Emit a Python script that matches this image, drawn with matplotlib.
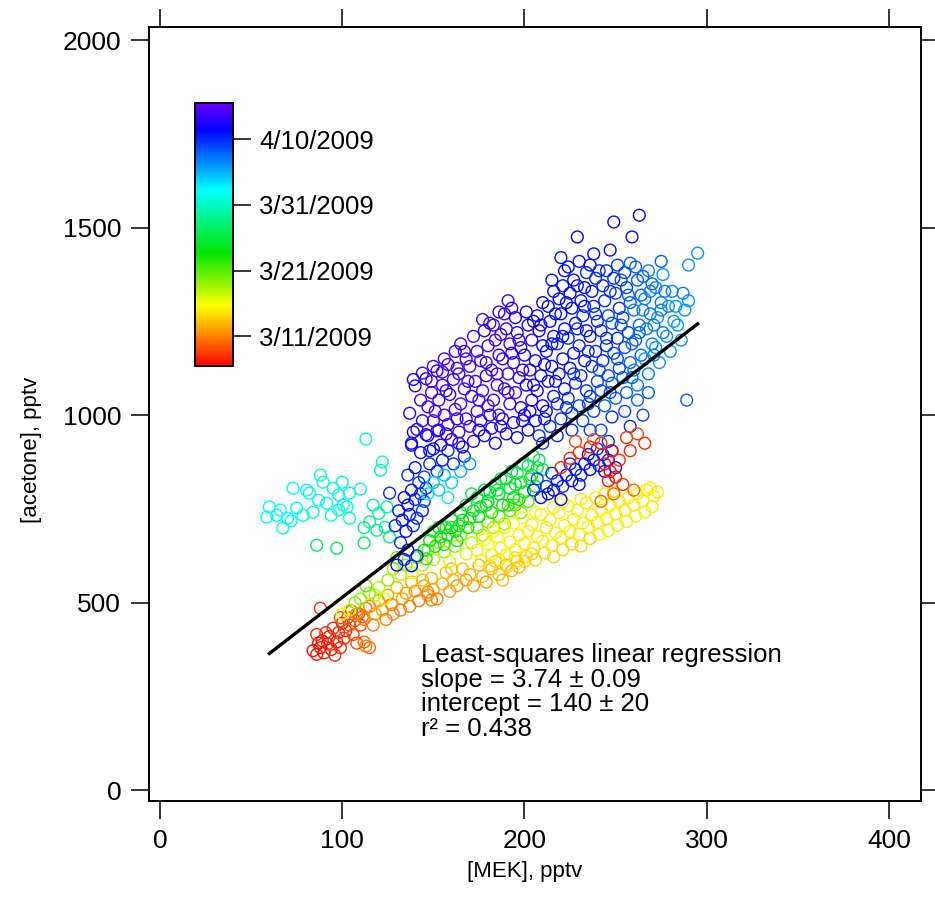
import numpy as np
import matplotlib
matplotlib.use("Agg")
import matplotlib.pyplot as plt
from matplotlib.colors import LinearSegmentedColormap, Normalize
from matplotlib.cm import ScalarMappable

plt.rcParams['font.family'] = ['Liberation Sans', 'DejaVu Sans']

# (MEK pptv, acetone pptv, day of March 2009)
red_early = [
    (84, 372, 6), (86, 362, 6), (88, 380, 6), (90, 366, 6), (92, 390, 7), (89, 398, 6),
    (94, 375, 6), (96, 360, 7), (93, 410, 7), (97, 395, 6), (99, 380, 7), (101, 405, 7),
    (98, 420, 7), (95, 432, 7), (102, 425, 7), (104, 440, 8), (100, 445, 7), (106, 415, 8),
    (103, 460, 8), (107, 452, 8), (109, 470, 8), (105, 478, 8), (110, 440, 8), (91, 420, 7),
    (87, 392, 6), (112, 395, 9), (108, 392, 8), (115, 380, 9), (88, 485, 7), (86, 415, 7),
    (99, 460, 8), (111, 462, 9), (113, 485, 9),
]
orange = [
    (108, 470, 10), (112, 455, 10), (115, 490, 10), (118, 470, 11), (120, 505, 11), (117, 440, 10),
    (122, 480, 11), (125, 520, 11), (127, 495, 10), (130, 540, 12), (128, 470, 10), (133, 510, 11),
    (135, 525, 11), (138, 555, 12), (137, 490, 10), (140, 530, 11), (142, 505, 10), (145, 545, 11),
    (147, 520, 11), (149, 565, 12), (150, 535, 11), (152, 510, 10), (155, 550, 12), (157, 580, 12),
    (159, 530, 11), (161, 560, 12), (163, 545, 11), (166, 590, 12), (168, 560, 11), (170, 575, 12),
    (172, 545, 11), (175, 600, 12), (177, 570, 12), (179, 555, 11), (182, 590, 12), (184, 610, 13),
    (186, 575, 12), (188, 560, 12), (190, 600, 12), (193, 585, 12), (195, 620, 13), (197, 595, 12),
    (113, 384, 10), (149, 507, 10), (147, 528, 10), (124, 455, 10), (132, 480, 10), (144, 560, 12),
    (160, 590, 12), (200, 610, 13), (204, 630, 13),
]
yellow_green = [
    (120, 540, 17), (125, 560, 18), (128, 590, 18), (132, 575, 17), (135, 600, 18), (138, 580, 16),
    (141, 620, 19), (144, 600, 17), (147, 640, 19), (150, 615, 17), (153, 660, 19), (156, 635, 18),
    (159, 610, 16), (162, 650, 18), (165, 680, 19), (168, 630, 16), (171, 660, 17), (174, 700, 19),
    (177, 680, 18), (180, 715, 19), (183, 700, 18), (186, 730, 19), (189, 710, 18), (192, 745, 20),
    (195, 760, 20), (198, 740, 19), (202, 770, 20), (118, 520, 17), (123, 510, 16), (130, 620, 19),
    (110, 510, 18), (115, 525, 18), (104, 480, 16), (107, 500, 19), (100, 470, 15), (113, 545, 20),
]
yellow = [
    (176, 612, 14), (174, 640, 14), (178, 668, 15),
    (181, 598, 13), (182, 628, 14), (180, 655, 15), (183, 690, 15),
    (186, 615, 14), (187, 645, 14), (185, 676, 15),
    (191, 596, 13), (190, 627, 14), (192, 662, 14), (189, 700, 15),
    (196, 610, 13), (195, 641, 14), (197, 680, 14), (194, 712, 15),
    (201, 623, 13), (200, 657, 14), (202, 690, 14), (199, 726, 15),
    (206, 614, 13), (205, 646, 14), (207, 676, 14), (204, 708, 14), (206, 742, 15),
    (211, 632, 13), (210, 664, 14), (212, 700, 14), (209, 735, 14),
    (216, 622, 13), (215, 652, 14), (217, 686, 14), (214, 720, 14), (216, 754, 14),
    (221, 641, 13), (220, 674, 14), (222, 706, 14), (219, 740, 14), (221, 770, 14),
    (226, 656, 13), (225, 690, 14), (227, 722, 14), (224, 758, 14),
    (231, 651, 13), (230, 682, 14), (232, 712, 14), (229, 746, 14), (231, 776, 14),
    (236, 671, 13), (235, 702, 14), (237, 734, 14), (234, 766, 14),
    (241, 682, 14), (240, 714, 14), (242, 746, 14), (239, 780, 14),
    (246, 692, 14), (245, 724, 14), (247, 759, 14), (244, 790, 14),
    (251, 706, 14), (250, 737, 14), (252, 770, 14), (249, 796, 14),
    (256, 716, 14), (255, 746, 14), (257, 780, 14),
    (261, 731, 14), (260, 760, 14), (262, 790, 14),
    (266, 742, 14), (265, 771, 14), (267, 800, 14),
    (270, 756, 14), (271, 784, 14), (269, 806, 14), (273, 795, 14),
]
green = [
    (145, 640, 23), (148, 665, 23), (151, 650, 22), (150, 690, 24), (154, 675, 23), (157, 700, 24),
    (156, 655, 22), (160, 720, 24), (162, 690, 23), (165, 740, 24), (164, 705, 23), (168, 760, 25),
    (170, 725, 23), (172, 745, 24), (174, 780, 25), (176, 755, 24), (178, 800, 25), (180, 770, 24),
    (182, 740, 22), (184, 815, 25), (186, 790, 24), (188, 760, 23), (190, 830, 25), (192, 805, 24),
    (194, 780, 23), (196, 845, 25), (198, 820, 24), (200, 795, 23), (202, 865, 25), (204, 840, 24),
    (206, 810, 23), (208, 880, 25), (210, 855, 24), (205, 890, 26), (199, 870, 26), (193, 850, 25),
    (187, 830, 25), (181, 795, 24), (175, 730, 23), (169, 700, 22), (163, 665, 22), (158, 680, 23),
    (191, 760, 22), (197, 775, 22), (146, 617, 22), (86, 653, 26), (97, 645, 26), (112, 659, 26),
    (153, 700, 23), (166, 720, 23), (179, 760, 23), (185, 800, 24), (195, 815, 24), (203, 830, 24),
    (171, 790, 25), (160, 700, 23), (207, 860, 25),
]
cyan = [
    (113, 936, 31), (122, 875, 30), (121, 853, 30), (88, 840, 31), (89.5, 821, 31), (73, 805, 32),
    (80.5, 800, 32), (82, 792, 31), (100, 821, 31), (104, 792, 31), (110, 803, 31), (98, 787, 32),
    (87, 773, 32), (91.5, 765, 31), (100.5, 760, 31), (60, 755, 32), (66, 747, 32), (75, 752, 32),
    (58.7, 728, 32), (64, 733, 32), (70, 725, 32), (67.5, 699, 32), (78.5, 733, 31), (84, 741, 31),
    (94, 733, 31), (98, 747, 31), (104, 725, 31), (102.6, 755, 31), (72, 718, 32), (95, 805, 31),
    (115, 715, 28), (120, 738, 29), (124.5, 755, 29), (119, 693, 28), (123.5, 701, 28), (126, 675, 27),
    (117, 760, 29), (112, 700, 28),
]
blue_tail = [
    (130, 600, 41), (134, 615, 40), (138, 598, 41), (141, 625, 40), (136, 640, 41), (132, 660, 40),
    (135, 690, 41), (139, 705, 40), (133, 720, 41), (137, 735, 41), (141, 725, 40), (144, 745, 40),
    (136, 760, 41), (140, 775, 40), (143, 790, 40), (138, 800, 41), (145, 770, 39), (131, 745, 41),
    (129, 705, 40), (146, 805, 40), (142, 820, 40), (134, 780, 41), (126, 792, 40),
    (136, 840, 40), (140, 860, 41), (145, 835, 39), (148, 870, 40), (152, 850, 40), (155, 880, 41),
    (143, 900, 41), (138, 920, 42), (150, 910, 41), (158, 905, 40), (161, 870, 40), (164, 925, 41),
    (147, 945, 42), (139, 955, 42), (153, 960, 42), (167, 890, 40), (156, 840, 35), (160, 820, 34),
    (150, 820, 34), (165, 850, 35), (170, 870, 36), (147, 790, 33), (153, 800, 34), (158, 780, 33),
]
blue_main = [
    (138, 925, 42), (141, 962, 43), (137, 1005, 43), (143, 1040, 44), (140, 1078, 43), (144, 1112, 44), (139, 1095, 42),
    (148, 905, 41), (146, 948, 43), (150, 985, 44), (147, 1022, 43), (149, 1060, 44), (146, 1097, 43), (150, 1130, 44),
    (154, 920, 42), (152, 958, 44), (156, 1000, 43), (153, 1040, 44), (155, 1080, 44), (152, 1118, 43), (156, 1150, 44),
    (160, 935, 43), (158, 975, 44), (162, 1015, 44), (159, 1055, 43), (161, 1095, 44), (158, 1135, 44), (162, 1170, 43),
    (166, 915, 42), (164, 955, 44), (168, 990, 43), (165, 1030, 44), (167, 1070, 44), (164, 1110, 43), (168, 1150, 44), (165, 1190, 44),
    (172, 930, 43), (170, 970, 44), (174, 1010, 44), (171, 1050, 43), (173, 1090, 44), (170, 1130, 44), (174, 1170, 43), (172, 1210, 44),
    (178, 945, 42), (176, 985, 43), (180, 1025, 44), (177, 1065, 44), (179, 1105, 43), (176, 1145, 44), (180, 1185, 44), (178, 1225, 43), (177, 1255, 44),
    (184, 925, 41), (182, 965, 43), (186, 1000, 44), (183, 1040, 43), (185, 1080, 44), (182, 1120, 44), (186, 1160, 43), (184, 1200, 44), (183, 1240, 44), (186, 1275, 43),
    (190, 950, 42), (188, 990, 43), (192, 1030, 44), (189, 1070, 43), (191, 1110, 44), (188, 1150, 43), (192, 1190, 44), (190, 1230, 43), (189, 1270, 44), (191, 1305, 43),
    (196, 940, 41), (194, 980, 42), (198, 1020, 43), (195, 1060, 44), (197, 1100, 43), (194, 1140, 44), (198, 1180, 43), (196, 1220, 43), (195, 1260, 42),
    (202, 960, 41), (200, 1000, 42), (204, 1040, 43), (201, 1080, 42), (203, 1120, 43), (200, 1160, 42), (204, 1200, 43), (202, 1240, 42), (201, 1275, 42),
    (208, 945, 40), (206, 985, 41), (210, 1025, 42), (207, 1065, 42), (209, 1105, 41), (206, 1145, 42), (210, 1185, 41), (208, 1225, 42), (207, 1265, 41), (210, 1300, 42),
    (214, 970, 40), (212, 1010, 41), (216, 1050, 41), (213, 1090, 42), (215, 1130, 41), (212, 1170, 41), (216, 1210, 42), (214, 1250, 41), (213, 1290, 41), (216, 1330, 41), (215, 1360, 41),
    (220, 990, 40), (218, 1030, 40), (222, 1070, 41), (219, 1110, 41), (221, 1150, 41), (218, 1190, 40), (222, 1230, 41), (220, 1270, 41), (219, 1310, 41), (221, 1345, 41), (222, 1385, 41),
    (226, 1005, 39), (224, 1045, 40), (228, 1085, 40), (225, 1125, 41), (227, 1165, 41), (224, 1205, 40), (228, 1245, 41), (226, 1285, 41), (225, 1325, 41), (227, 1360, 41), (224, 1395, 41),
    (232, 985, 39), (230, 1025, 39), (234, 1065, 40), (231, 1105, 40), (233, 1145, 41), (230, 1185, 40), (234, 1225, 41), (232, 1265, 40), (231, 1305, 41), (233, 1340, 41), (234, 1380, 40), (230, 1410, 41),
    (238, 1010, 39), (236, 1050, 40), (240, 1090, 39), (237, 1130, 40), (239, 1170, 40), (236, 1210, 41), (240, 1250, 40), (238, 1290, 40), (237, 1330, 41), (239, 1365, 40), (236, 1400, 41),
    (244, 1025, 38), (242, 1065, 39), (246, 1105, 39), (243, 1145, 40), (245, 1185, 40), (242, 1225, 40), (246, 1265, 39), (244, 1305, 40), (243, 1345, 40), (245, 1385, 40),
    (250, 1045, 38), (248, 1085, 38), (252, 1125, 39), (249, 1165, 39), (251, 1205, 40), (248, 1245, 39), (252, 1285, 40), (250, 1325, 39), (249, 1365, 40), (251, 1400, 39),
    (256, 1060, 38), (254, 1100, 38), (258, 1140, 38), (255, 1180, 39), (257, 1220, 39), (254, 1260, 39), (258, 1300, 38), (256, 1340, 39), (255, 1380, 39), (258, 1405, 38),
    (262, 1080, 37), (260, 1120, 37), (264, 1160, 38), (261, 1200, 38), (263, 1240, 38), (260, 1280, 37), (264, 1320, 38), (262, 1360, 38), (261, 1395, 38),
    (268, 1110, 37), (266, 1150, 36), (270, 1190, 37), (267, 1230, 37), (269, 1270, 37), (266, 1310, 37), (270, 1350, 38), (268, 1385, 37),
    (274, 1140, 36), (272, 1180, 36), (276, 1220, 37), (273, 1260, 36), (275, 1300, 37), (272, 1340, 37), (276, 1375, 36),
    (280, 1170, 36), (278, 1210, 36), (282, 1250, 36), (279, 1290, 36), (281, 1330, 37),
    (286, 1200, 36), (284, 1240, 36), (288, 1280, 36), (290, 1305, 36), (287, 1325, 37),
    (263, 1533, 41), (249, 1515, 41), (229, 1475, 42), (259, 1475, 41), (295, 1432, 36), (290, 1400, 36),
    (289, 1040, 38), (247, 1440, 41), (220, 1420, 41), (275, 1410, 38), (238, 1430, 41),
    (242, 960, 39), (248, 995, 40), (255, 1010, 39), (262, 1040, 38), (268, 1060, 38), (246, 930, 40),
    (236, 960, 39), (258, 970, 40), (265, 1000, 39), (210, 925, 40), (218, 945, 40), (226, 960, 40),
]
blue_fill = [
    (144, 985, 43), (151, 1010, 44), (157, 1065, 43), (163, 1125, 44), (169, 1090, 43), (175, 1040, 44),
    (181, 1000, 43), (187, 1215, 44), (193, 1165, 43), (199, 1120, 43), (205, 1080, 42), (211, 1135, 42),
    (217, 1090, 41), (223, 1300, 41), (229, 1230, 40), (235, 1170, 40), (241, 1120, 39), (247, 1330, 40),
    (253, 1240, 39), (259, 1190, 38), (265, 1280, 37), (271, 1240, 37), (277, 1330, 37), (283, 1290, 36),
    (157, 950, 43), (163, 990, 43), (175, 960, 42), (187, 970, 42), (199, 985, 41), (211, 990, 41),
    (223, 1020, 40), (235, 1030, 39), (247, 1060, 39), (259, 1100, 38), (271, 1160, 37), (181, 1245, 44),
    (193, 1285, 43), (205, 1250, 42), (217, 1270, 41), (229, 1345, 41), (241, 1385, 40), (253, 1360, 39),
    (265, 1370, 38), (149, 1090, 44), (155, 1115, 44), (167, 1170, 44), (179, 1140, 43), (191, 1060, 44),
    (203, 1010, 42), (215, 1190, 41), (227, 1110, 40), (239, 1270, 40), (251, 1150, 39), (263, 1220, 38),
    (275, 1280, 37), (185, 1110, 44), (197, 1200, 43), (209, 1240, 42), (221, 1210, 41), (233, 1290, 41),
    (245, 1205, 40), (257, 1320, 38), (269, 1330, 37),
]
blue_patch = [
    (209, 780, 41), (213, 790, 41), (212, 810, 40), (216, 800, 41), (218, 825, 41), (221, 810, 40),
    (223, 840, 41), (226, 825, 41), (228, 855, 41), (231, 840, 40), (233, 870, 41), (236, 855, 41),
    (238, 880, 41), (241, 865, 40), (243, 895, 41), (246, 880, 41), (248, 905, 41), (215, 845, 40),
    (225, 870, 40), (205, 800, 40), (207, 830, 39), (235, 895, 41), (240, 910, 40), (250, 860, 41),
    (220, 775, 41), (230, 815, 41), (244, 850, 41),
]
red_patch = [
    (220, 860, 7), (225, 885, 7), (230, 900, 7), (236, 915, 6), (242, 925, 7), (248, 905, 6),
    (244, 870, 6), (247, 850, 6), (250, 835, 6), (246, 825, 6), (252, 880, 7), (256, 940, 7),
    (262, 950, 8), (266, 925, 7), (258, 905, 7), (238, 935, 8), (228, 930, 8), (254, 815, 7),
    (249, 790, 9), (242, 770, 9), (260, 800, 9),
]

slope = 3.74
intercept = 140
fit_mek = [60, 295]

day_ticks = [10, 20, 30, 40]
day_labels = ['3/11/2009', '3/21/2009', '3/31/2009', '4/10/2009']

groups = [red_early, orange, yellow_green, yellow, green, cyan, blue_tail,
          blue_main, blue_fill, blue_patch, red_patch]
pts = np.array([p for g in groups for p in g], dtype=float)
mek, acetone, day = pts[:, 0], pts[:, 1], pts[:, 2]

cmap = LinearSegmentedColormap.from_list('igor', [
    (0.0, (1.0, 0.0, 0.0)), (0.11, (1.0, 0.5, 0.0)), (0.227, (1.0, 1.0, 0.0)),
    (0.43, (0.0, 0.9, 0.0)), (0.67, (0.0, 1.0, 1.0)), (0.9, (0.0, 0.0, 1.0)),
    (1.0, (0.42, 0.0, 1.0))])
norm = Normalize(vmin=5.5, vmax=45.5)

fig = plt.figure(figsize=(9.35, 8.99), dpi=100)
ax = fig.add_axes([0.1594, 0.1090, 0.8257, 0.8610])

ax.scatter(mek, acetone, s=72, facecolors='none', edgecolors=cmap(norm(day)), linewidths=1.0, zorder=2)
fit_y = [slope * m + intercept for m in fit_mek]
ax.plot(fit_mek, fit_y, color='black', lw=2.4, zorder=3)

ax.set_xlim(-6, 417.6)
ax.set_ylim(-29, 2035)
ax.set_xticks([0, 100, 200, 300, 400])
ax.set_yticks([0, 500, 1000, 1500, 2000])
ax.tick_params(direction='out', length=13, width=1.1, labelsize=19, pad=7,
               top=True, right=True, labeltop=False, labelright=False)
for sp in ax.spines.values():
    sp.set_linewidth(1.4)
ax.set_xlabel('[MEK], pptv', fontsize=16)
ax.set_ylabel('[acetone], pptv', fontsize=16)
ax.xaxis.set_label_coords(0.487, -0.078)
ax.yaxis.set_label_coords(-0.139, 0.453)

ax.text(143, 392, 'Least-squares linear regression\nslope = 3.74 \u00b1 0.09\n'
        'intercept = 140 \u00b1 20\nr\u00b2 = 0.438',
        fontsize=18.5, va='top', ha='left', linespacing=1.03)

cax = fig.add_axes([0.2086, 0.5929, 0.0406, 0.2925])
cb = fig.colorbar(ScalarMappable(norm=norm, cmap=cmap), cax=cax)
cb.set_ticks(day_ticks)
cb.set_ticklabels(day_labels)
cb.ax.tick_params(direction='out', length=13, width=1.1, labelsize=18.5, pad=6)
cb.outline.set_linewidth(1.4)

fig.savefig('out.png', dpi=100)
